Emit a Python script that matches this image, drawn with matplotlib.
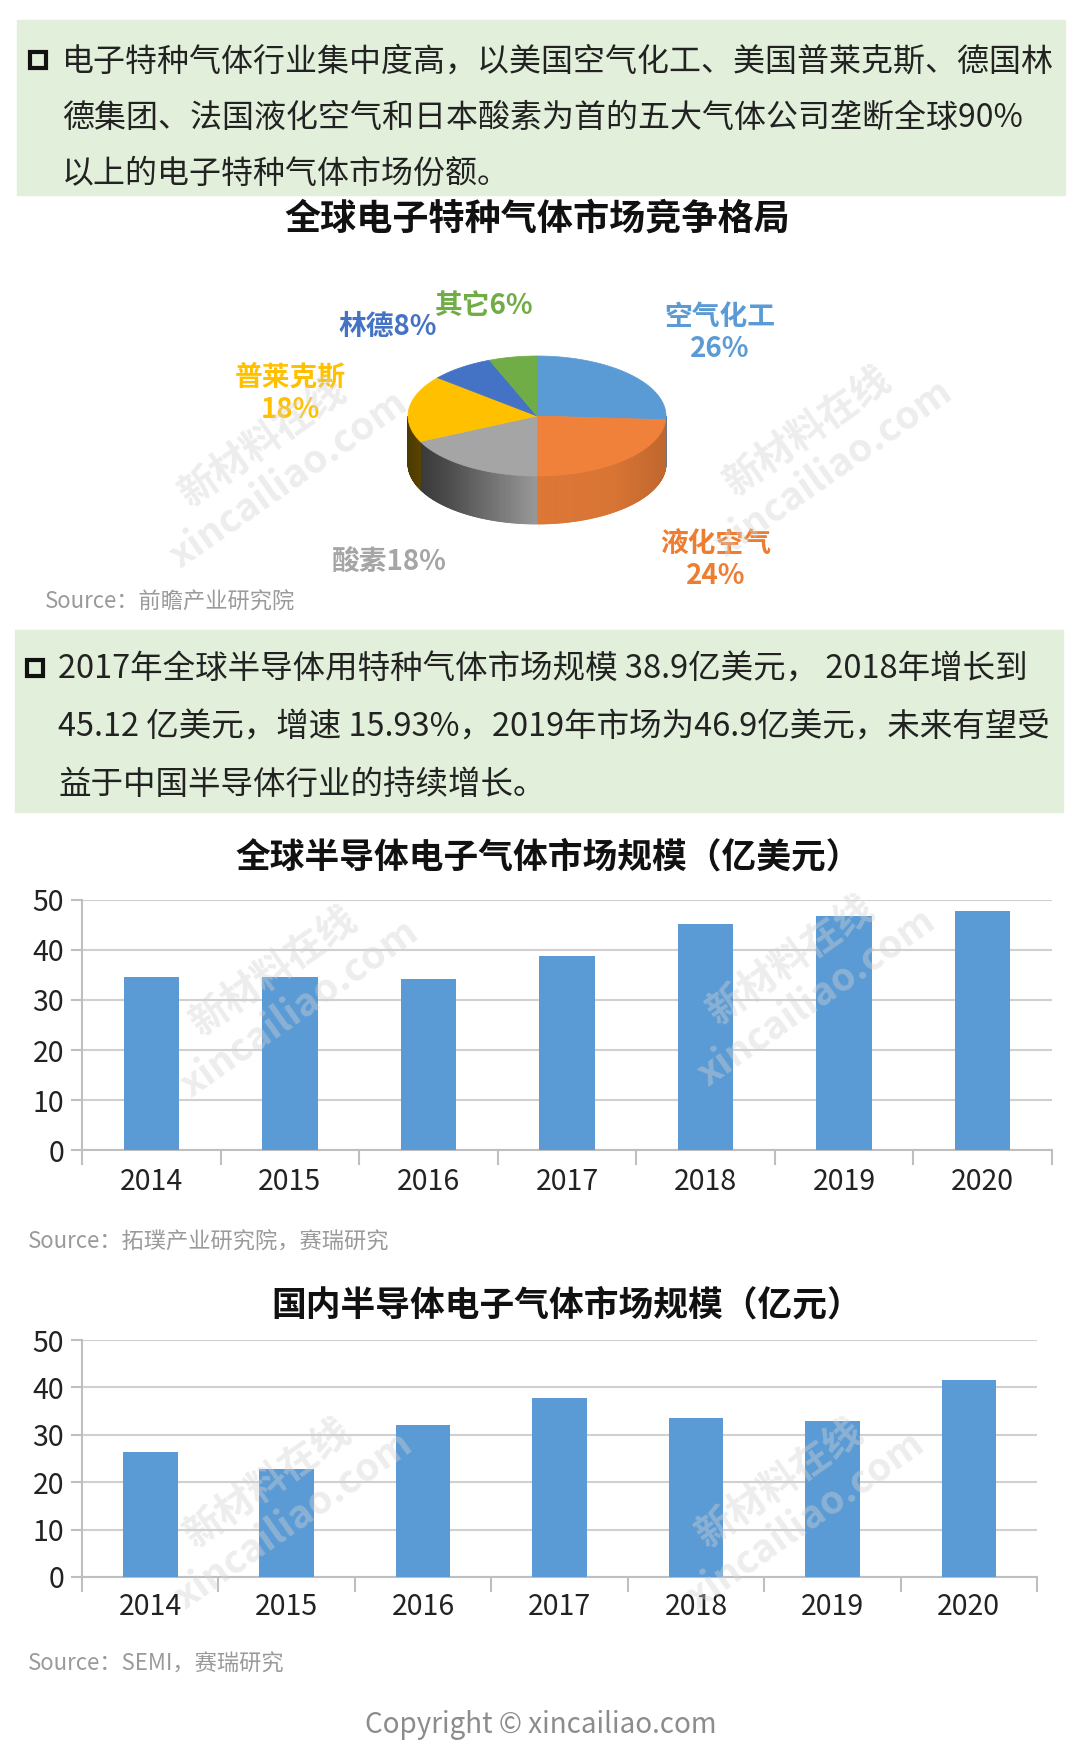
#电子特种气体市场：3D饼图 + 两个柱状图
import numpy as np
import matplotlib.pyplot as plt
from matplotlib.patches import Rectangle, Polygon
from matplotlib.colors import to_rgb

plt.rcParams['font.family'] = ['Noto Sans CJK SC', 'DejaVu Sans']

W, H = 1080, 1757

# 饼图数据
pie_labels = ['空气化工', '液化空气', '酸素', '普莱克斯', '林德', '其它']
pie_shares = [26, 24, 18, 18, 8, 6]
pie_colors = ['#5B9BD5', '#F0813A', '#A5A5A5', '#FFC000', '#4472C4', '#70AD47']

# 柱状图数据
years = ['2014', '2015', '2016', '2017', '2018', '2019', '2020']
global_size = [34.6, 34.7, 34.2, 38.9, 45.12, 46.9, 47.9]   # 亿美元
china_size = [26.3, 22.7, 32.1, 37.8, 33.5, 32.9, 41.6]     # 亿元

text1 = ['电子特种气体行业集中度高，以美国空气化工、美国普莱克斯、德国林',
         '德集团、法国液化空气和日本酸素为首的五大气体公司垄断全球90%',
         '以上的电子特种气体市场份额。']
text2 = ['2017年全球半导体用特种气体市场规模 38.9亿美元， 2018年增长到',
         '45.12 亿美元，增速 15.93%，2019年市场为46.9亿美元，未来有望受',
         '益于中国半导体行业的持续增长。']

fig = plt.figure(figsize=(W / 100, H / 100), dpi=100)
bg = fig.add_axes([0, 0, 1, 1])
bg.set_xlim(0, W)
bg.set_ylim(H, 0)
bg.axis('off')

# 绿色文字框
green = '#E2EFDA'
bg.add_patch(Rectangle((17, 20), 1048, 175, color=green, zorder=0))
bg.add_patch(Rectangle((15, 630), 1048, 182, color=green, zorder=0))
# 方框符号
bg.add_patch(Rectangle((30, 52), 16, 16, facecolor='none', edgecolor='#111111', lw=3, zorder=1))
bg.add_patch(Rectangle((27, 660), 16, 16, facecolor='none', edgecolor='#111111', lw=3, zorder=1))
for i, s in enumerate(text1):
    bg.text(62, 62 + 56 * i, s, fontsize=23, va='center', color='#222222')
for i, s in enumerate(text2):
    bg.text(58, 670 + 57.5 * i, s, fontsize=23.4, va='center', color='#222222')

# 饼图标题
bg.text(537, 219, '全球电子特种气体市场竞争格局', fontsize=26, fontweight='bold',
        ha='center', va='center', color='#111111')

# 3D饼图
cx, cy, rx, ry, depth = 537, 416, 129, 60, 48
fr = np.array(pie_shares) / sum(pie_shares)
bounds = 90 - 360 * np.concatenate([[0], np.cumsum(fr)])


def pt(a):
    r = np.radians(a)
    return cx + rx * np.cos(r), cy - ry * np.sin(r)


# 侧面
for i in range(len(fr)):
    a_hi, a_lo = bounds[i], bounds[i + 1]
    angs = np.linspace(a_lo, a_hi, int(abs(a_hi - a_lo)) * 2 + 2)
    base = np.array(to_rgb(pie_colors[i]))
    for j in range(len(angs) - 1):
        tm = (angs[j] + angs[j + 1]) / 2
        if np.sin(np.radians(tm)) >= 0:
            continue
        u = (np.cos(np.radians(tm)) + 1) / 2
        shade = np.interp(u, [0, 0.15, 0.5, 0.8, 1], [0.3, 0.45, 0.92, 0.9, 0.8])
        c = np.clip(base * shade, 0, 1)
        x0, y0 = pt(angs[j])
        x1, y1 = pt(angs[j + 1])
        bg.add_patch(Polygon([(x0, y0), (x1, y1), (x1, y1 + depth), (x0, y0 + depth)],
                             closed=True, facecolor=c, edgecolor=c, lw=0.6, zorder=1))

# 顶面
for i in range(len(fr)):
    angs = np.linspace(bounds[i + 1], bounds[i], 100)
    pts = [(cx, cy)] + [pt(a) for a in angs]
    bg.add_patch(Polygon(pts, closed=True, facecolor=pie_colors[i],
                         edgecolor=pie_colors[i], lw=0.5, zorder=2))

# 饼图标签
lab_pos = [(720, 333), (716, 560), (389, 563), (290, 394), (388, 327), (484, 306)]
lab_two = [True, True, False, True, False, False]
lab_col = ['#5B9BD5', '#ED7D31', '#A5A5A5', '#FFC000', '#4472C4', '#70AD47']
for i, (x, y) in enumerate(lab_pos):
    if lab_two[i]:
        s = '%s\n%d%%' % (pie_labels[i], pie_shares[i])
    else:
        s = '%s%d%%' % (pie_labels[i], pie_shares[i])
    bg.text(x, y, s, fontsize=20, fontweight='bold', color=lab_col[i],
            ha='center', va='center', linespacing=1.2)

src_col = '#9A9A9A'
bg.text(45, 602, 'Source：前瞻产业研究院', fontsize=16, color=src_col, va='center')


def bar_chart(vals, box, title, title_xy, label_pad):
    l, t, r, b = box
    ax = fig.add_axes([l / W, 1 - b / H, (r - l) / W, (b - t) / H])
    ax.patch.set_alpha(0)
    x = np.arange(len(vals))
    ax.bar(x, vals, width=0.4, color='#5B9BD5', zorder=3)
    ax.set_xlim(-0.5, len(vals) - 0.5)
    ax.set_ylim(0, 50)
    ax.set_yticks(range(0, 51, 10))
    ax.yaxis.grid(True, color='#D0D0D0', lw=1.5, zorder=0)
    ax.set_axisbelow(True)
    for sp in ['top', 'right']:
        ax.spines[sp].set_visible(False)
    for sp in ['left', 'bottom']:
        ax.spines[sp].set_color('#BFBFBF')
        ax.spines[sp].set_linewidth(1.5)
    ax.set_xticks(x)
    ax.set_xticklabels(years)
    ax.set_xticks(np.arange(-0.5, len(vals), 1), minor=True)
    ax.tick_params(axis='x', which='major', length=0, pad=label_pad,
                   labelsize=20.5, labelcolor='#222222')
    ax.tick_params(axis='x', which='minor', length=11, width=1.5, color='#BFBFBF')
    ax.tick_params(axis='y', length=8, width=1.5, color='#BFBFBF', pad=5,
                   labelsize=20.5, labelcolor='#222222')
    bg.text(title_xy[0], title_xy[1], title, fontsize=25, fontweight='bold',
            ha='center', va='center', color='#111111')
    return ax


bar_chart(global_size, (82, 900, 1052, 1150), '全球半导体电子气体市场规模（亿美元）',
          (548, 857), 12)
bg.text(28, 1242, 'Source：拓璞产业研究院，赛瑞研究', fontsize=16, color=src_col, va='center')

bar_chart(china_size, (82, 1340, 1037, 1577), '国内半导体电子气体市场规模（亿元）',
          (567, 1305), 11)
bg.text(28, 1664, 'Source：SEMI，赛瑞研究', fontsize=16, color=src_col, va='center')

bg.text(541, 1725, 'Copyright © xincailiao.com', fontsize=20, color='#8C8C8C',
        ha='center', va='center')

# 水印
marks = [(276, 461), (821, 450), (287, 990), (804, 979), (281, 1502), (793, 1502)]
for x, y in marks:
    fig.text(x / W, 1 - y / H, '新材料在线\nxincailiao.com', fontsize=28,
             fontweight='bold', color='#D2D2D2', alpha=0.4, rotation=35,
             ha='center', va='center', multialignment='center', zorder=10)

fig.savefig('out.png', dpi=100)
